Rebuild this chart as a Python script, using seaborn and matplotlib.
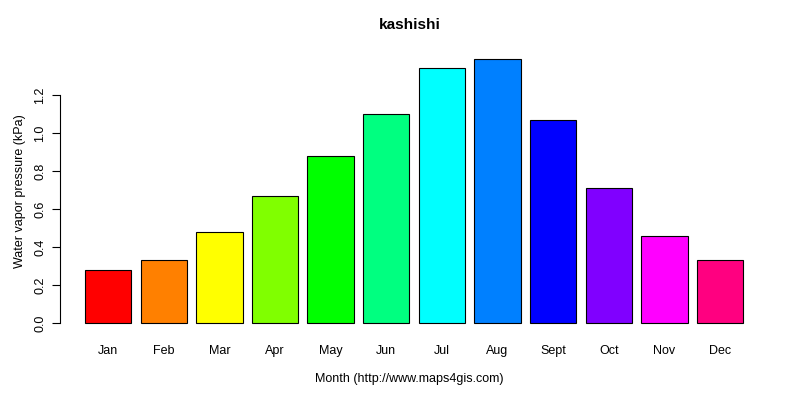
import matplotlib
matplotlib.use("Agg")
import matplotlib.pyplot as plt
import seaborn as sns
import pandas as pd

months = ["Jan", "Feb", "Mar", "Apr", "May", "Jun", "Jul", "Aug", "Sept", "Oct", "Nov", "Dec"]
vapor = [0.28, 0.33, 0.48, 0.67, 0.88, 1.10, 1.34, 1.39, 1.07, 0.71, 0.46, 0.33]
colors = ["#FF0000", "#FF8000", "#FFFF00", "#80FF00", "#00FF00", "#00FF80",
          "#00FFFF", "#0080FF", "#0000FF", "#8000FF", "#FF00FF", "#FF0080"]

df = pd.DataFrame({"month": months, "vapor": vapor})

sns.set_style("white")
plt.rcParams["font.family"] = ["Liberation Sans", "DejaVu Sans"]
plt.rcParams["text.color"] = "black"
plt.rcParams["axes.labelcolor"] = "black"
plt.rcParams["xtick.color"] = "black"
plt.rcParams["ytick.color"] = "black"

fig = plt.figure(figsize=(8, 4), dpi=100)
ax = fig.add_axes([49 / 800, 0.166, (770 - 49) / 800, 0.879 - 0.166])
sns.barplot(data=df, x="month", y="vapor", hue="month", palette=colors,
            legend=False, width=1 / 1.2, edgecolor="black", linewidth=0.8,
            saturation=1, ax=ax)

ax.set_xlim(-1.063, 11.897)
ax.set_ylim(-0.0556, 1.445)
for s in ["top", "right", "bottom"]:
    ax.spines[s].set_visible(False)
ax.spines["left"].set_bounds(0, 1.2)
ax.spines["left"].set_position(("axes", 11 / 721))
ax.spines["left"].set_color("black")
ax.set_yticks([0, 0.2, 0.4, 0.6, 0.8, 1.0, 1.2])
ax.set_yticklabels(["0.0", "0.2", "0.4", "0.6", "0.8", "1.0", "1.2"], rotation=90, va="center")
ax.tick_params(axis="y", length=6, width=0.8, labelsize=9, pad=4, left=True)
ax.tick_params(axis="x", length=0, labelsize=9, pad=8)
ax.set_xlabel("Month (http://www.maps4gis.com)", fontsize=9, labelpad=12)
ax.set_ylabel("Water vapor pressure (kPa)", fontsize=9, labelpad=6)
ax.set_title("kashishi", fontsize=11, fontweight="bold", pad=14)

fig.savefig("out.png", dpi=100, facecolor="white")
